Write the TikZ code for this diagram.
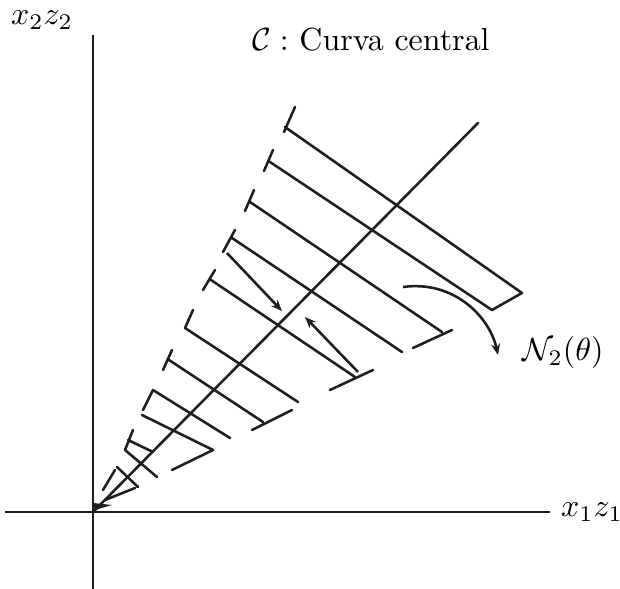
\documentclass[tikz,border=0pt]{standalone}
\usepackage{amsmath,amssymb}
\usepackage{tikz}
\usetikzlibrary{arrows.meta, calc}
\usepackage{xcolor}
\definecolor{trazo}{RGB}{30, 30, 30}
\tikzset{
  eje/.style      = {line width=0.75pt, trazo},
  varilla/.style  = {line width=0.8pt, trazo, line cap=round, line join=round},
  flecha/.style   = {-{Stealth[length=3.5pt, width=2.8pt]}, line width=0.8pt, trazo},
  etiqueta/.style = {inner sep=0pt, font=\normalsize},
}

\begin{document}
\begin{tikzpicture}[x=0.11mm, y=-0.11mm]
  % marco: 620 x 589
  \useasboundingbox (0,0) rectangle (620,589);

  % ejes
  \draw[eje] (93,35) -- (93,589);
  \draw[eje] (5,512) -- (550,512);
  \fill[trazo] (93,503) -- (112,505) -- (95,510) -- cycle;
  \node[etiqueta] (ejey) at (42,20) {$x_2z_2$};
  \node[etiqueta] (ejex) at (592,512) {$x_1z_1$};

  % curva central
  \coordinate (origen) at (93,512);
  \coordinate (tope) at (478,123);
  \draw[varilla] (origen) -- (tope);
  \node[etiqueta] (curva) at (371,40) {$\mathcal{C}:$ Curva central};

  % varillas (de arriba hacia el origen)
  \draw[varilla] (284,132) -- (295,107) (285,127) -- (522,293);
  \draw[varilla] (264,171) -- (273,150) (270,162) -- (492,310) -- (522,293);
  \draw[varilla] (245,211) -- (254,190) (250,202) -- (442,332) (413,348) -- (452,330);
  \draw[varilla] (223,252) -- (235,230) (232,238) -- (402,352);
  \draw[varilla] (203,290) -- (215,270) (211,280) -- (355,377) (330,390) -- (373,370);
  \draw[varilla] (193,310) -- (185,328) -- (298,402);
  \draw[varilla] (163,370) -- (172,350) (169,360) -- (263,422) (252,430) -- (292,410);
  \draw[varilla] (143,410) -- (153,390) -- (230,438);
  \draw[varilla] (142,415) -- (213,450) -- (172,470);
  \draw[varilla] (133,430) -- (125,450) (128,440) -- (153,452) (125,450) -- (157,477);
  \draw[varilla] (103,490) -- (115,470) (117,467) -- (138,487) (105,500) -- (135,488);

  % flechas hacia la curva
  \coordinate (a1) at (227,253);
  \coordinate (b1) at (282,311);
  \coordinate (a2) at (358,372);
  \coordinate (b2) at (305,317);
  \draw[flecha] (a1) -- (b1);
  \draw[flecha] (a2) -- (b2);

  % vecindad N_2(theta)
  \coordinate (c1) at (403,287);
  \coordinate (c2) at (498,355);
  \draw[flecha] (c1) .. controls (455,280) and (490,318) .. (c2);
  \node[etiqueta] (vecindad) at (563,353) {$\mathcal{N}_2(\theta)$};

\end{tikzpicture}
\end{document}
